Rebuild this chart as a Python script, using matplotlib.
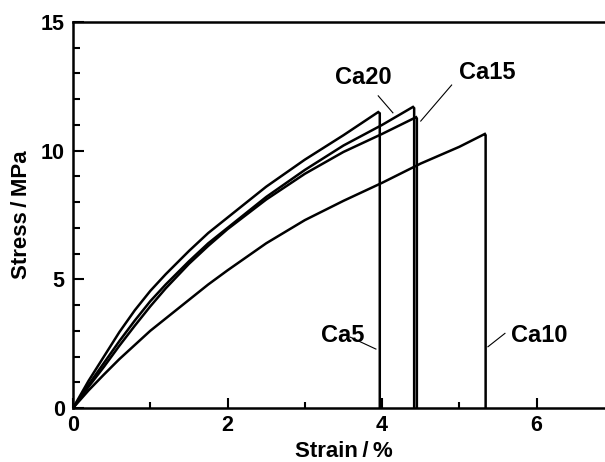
import matplotlib
matplotlib.use("Agg")
from matplotlib import pyplot as plt
from matplotlib.ticker import MultipleLocator

plt.rcParams['font.family'] = ['Liberation Sans', 'DejaVu Sans']
plt.rcParams['font.weight'] = 'bold'

# stress-strain curves (strain %, stress MPa)
ca5_x = [0, 0.2, 0.4, 0.6, 0.8, 1.0, 1.2, 1.5, 1.75, 2.0, 2.5, 3.0, 3.5, 3.95, 3.97, 3.97]
ca5_y = [0, 1.05, 2.0, 2.95, 3.8, 4.55, 5.2, 6.1, 6.8, 7.4, 8.6, 9.65, 10.6, 11.5, 11.45, 0]

ca20_x = [0, 0.2, 0.4, 0.6, 0.8, 1.0, 1.2, 1.5, 1.75, 2.0, 2.5, 3.0, 3.5, 4.0, 4.40, 4.415, 4.415]
ca20_y = [0, 0.9, 1.75, 2.6, 3.4, 4.15, 4.8, 5.7, 6.4, 7.0, 8.2, 9.25, 10.2, 11.0, 11.7, 11.65, 0]

ca15_x = [0, 0.2, 0.4, 0.6, 0.8, 1.0, 1.2, 1.5, 1.75, 2.0, 2.5, 3.0, 3.5, 4.0, 4.44, 4.45, 4.45]
ca15_y = [0, 0.82, 1.6, 2.42, 3.2, 3.95, 4.65, 5.6, 6.3, 6.95, 8.1, 9.1, 9.95, 10.65, 11.3, 11.25, 0]

ca10_x = [0, 0.2, 0.4, 0.6, 0.8, 1.0, 1.25, 1.5, 1.75, 2.0, 2.5, 3.0, 3.5, 4.0, 4.5, 5.0, 5.33, 5.34, 5.34]
ca10_y = [0, 0.68, 1.3, 1.9, 2.45, 3.0, 3.6, 4.2, 4.8, 5.35, 6.4, 7.3, 8.05, 8.75, 9.5, 10.15, 10.65, 10.6, 0]

# label text, text position, leader line ends
labels = ["Ca20", "Ca15", "Ca5", "Ca10"]
label_pos = [(3.76, 12.83), (5.36, 13.02), (3.49, 2.80), (6.04, 2.80)]
leader_start = [(3.95, 12.13), (4.90, 12.55), (3.59, 2.75), (5.59, 2.90)]
leader_end = [(4.14, 11.47), (4.50, 11.15), (3.92, 2.29), (5.37, 2.38)]

fig = plt.figure(figsize=(6.05, 4.62), dpi=100)
ax = fig.add_axes([0.1207, 0.1169, 0.894, 0.8355])

for xs, ys in [(ca5_x, ca5_y), (ca20_x, ca20_y), (ca15_x, ca15_y), (ca10_x, ca10_y)]:
    ax.plot(xs, ys, 'k-', lw=1.8, solid_joinstyle='miter')

for txt, pos, p0, p1 in zip(labels, label_pos, leader_start, leader_end):
    ax.text(pos[0], pos[1], txt, fontsize=17, fontweight='bold', ha='center', va='center')
    ax.plot([p0[0], p1[0]], [p0[1], p1[1]], 'k-', lw=0.8)

ax.set_xlim(0, 7)
ax.set_ylim(0, 15)
ax.xaxis.set_major_locator(MultipleLocator(2))
ax.xaxis.set_minor_locator(MultipleLocator(1))
ax.yaxis.set_major_locator(MultipleLocator(5))
ax.yaxis.set_minor_locator(MultipleLocator(1))
ax.tick_params(which='both', direction='in', width=1.5, labelsize=15.5)
ax.tick_params(axis='y', which='major', length=8, pad=6)
ax.tick_params(axis='y', which='minor', length=5)
ax.tick_params(axis='x', which='major', length=7.5, pad=5)
ax.tick_params(axis='x', which='minor', length=4)
for s in ax.spines.values():
    s.set_linewidth(1.8)

ax.set_xlabel("Strain\u2009/\u2009%", fontsize=16, fontweight='bold')
ax.set_ylabel("Stress\u2009/\u2009MPa", fontsize=16, fontweight='bold')
ax.xaxis.set_label_coords(0.5, -0.085)
ax.yaxis.set_label_coords(-0.076, 0.5)

fig.savefig("out.png", dpi=100)
